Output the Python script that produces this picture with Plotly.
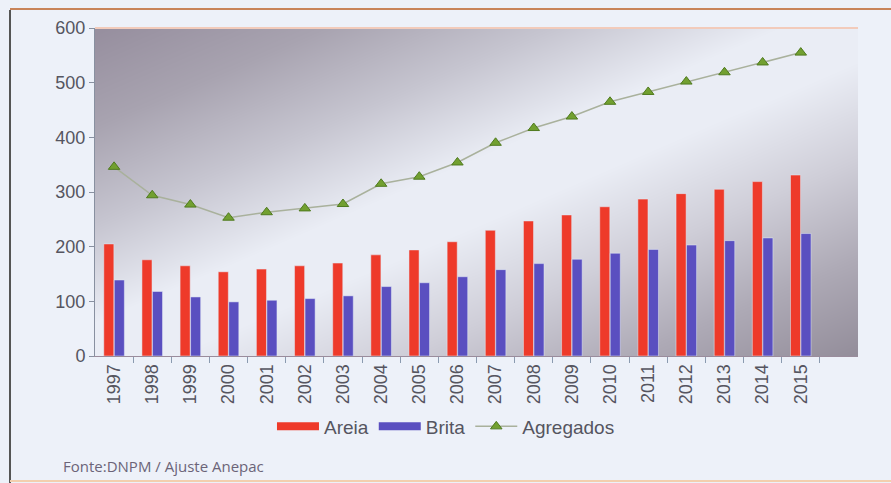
import numpy as np
import plotly.graph_objects as go

years = [1997, 1998, 1999, 2000, 2001, 2002, 2003, 2004, 2005, 2006,
         2007, 2008, 2009, 2010, 2011, 2012, 2013, 2014, 2015]
areia = [205, 176, 165, 154, 159, 165, 170, 185, 194, 209,
         230, 247, 258, 273, 287, 297, 305, 319, 331]
brita = [139, 118, 108, 99, 102, 105, 110, 127, 134, 145,
         158, 169, 177, 188, 195, 203, 211, 216, 224]
agregados = [346, 294, 277, 253, 263, 270, 278, 315, 328, 354,
             390, 417, 438, 465, 483, 502, 519, 537, 555]
year_labels = [str(y) for y in years]
y_ticks = [0, 100, 200, 300, 400, 500, 600]

RED = "#ee3a2a"
BLUE = "#5a4fc0"
GREEN = "#72a030"
TXT = "#555560"

x0, x1 = years[0] - 0.5, years[-1] + 1.5

# decorative diagonal gradient for the plot background
gx = np.linspace(x0, x1, 41)
gy = np.linspace(0, 600, 31)
U, V = np.meshgrid((gx - x0) / (x1 - x0), 1 - gy / 600)
T = (U + V) / 2

fig = go.Figure()
fig.add_trace(go.Heatmap(
    x=gx, y=gy, z=T, zmin=0, zmax=1, zsmooth="best", showscale=False,
    hoverinfo="skip", showlegend=False,
    colorscale=[[0, "#968e9e"], [0.15, "#a8a3b0"], [0.3, "#c6c5d0"],
                [0.45, "#eaedf5"], [0.55, "#eaedf5"], [0.7, "#cfced8"],
                [0.85, "#aeaab6"], [1, "#938d9a"]]))

fig.add_trace(go.Bar(x=years, y=areia, name="Areia", marker_color=RED,
                     showlegend=False))
fig.add_trace(go.Bar(x=years, y=brita, name="Brita", marker_color=BLUE,
                     showlegend=False))
# legend swatches
fig.add_trace(go.Scatter(x=[None], y=[None], mode="lines", name="Areia",
                         line=dict(color=RED, width=8)))
fig.add_trace(go.Scatter(x=[None], y=[None], mode="lines", name="Brita",
                         line=dict(color=BLUE, width=8)))
fig.add_trace(go.Scatter(x=years, y=agregados, mode="lines+markers",
                         name="Agregados",
                         line=dict(color="#a9b19c", width=1.5),
                         marker=dict(symbol="triangle-up", size=10,
                                     color=GREEN,
                                     line=dict(color="#4f7a1e", width=1))))

fig.update_layout(
    width=891, height=483, autosize=False,
    margin=dict(l=95, r=33, t=28, b=127),
    paper_bgcolor="#edf1f9", plot_bgcolor="#edf1f9",
    barmode="group", bargap=0.45, bargroupgap=0.04,
    font=dict(family="Liberation Sans, Arial, sans-serif", size=18, color=TXT),
    legend=dict(orientation="h", x=0.46, xanchor="center", y=-0.215,
                yanchor="middle", bgcolor="rgba(0,0,0,0)",
                font=dict(size=19, color=TXT), itemwidth=42,
                traceorder="normal"),
    showlegend=True,
)
fig.update_xaxes(
    range=[x0, x1], tickmode="array", tickvals=years, ticktext=year_labels,
    tickangle=-90, ticks="", showgrid=False, zeroline=False,
    showline=True, linecolor="#9a8c9c", linewidth=1,
    tickfont=dict(size=18, color=TXT),
    minor=dict(tickmode="array", tickvals=[y + 0.5 for y in years],
               ticks="outside", ticklen=6, tickcolor="#8b9bb0", tickwidth=1,
               showgrid=False),
)
fig.update_yaxes(
    range=[0, 600], tickmode="array", tickvals=y_ticks,
    ticks="outside", ticklen=5, tickcolor="#8890a0", showgrid=False,
    zeroline=False, showline=True, linecolor="#8890a0", linewidth=1,
    tickfont=dict(size=18, color=TXT),
)

# figure frame and top edge of plot
fig.add_shape(type="line", xref="paper", yref="paper", x0=0, x1=1, y0=1, y1=1,
              line=dict(color="#f2cbbb", width=2))
fig.add_shape(type="line", xref="paper", yref="paper",
              x0=-85 / 763, x1=-85 / 763, y0=-127 / 328, y1=(328 + 18) / 328,
              line=dict(color="#555", width=2))
fig.add_shape(type="line", xref="paper", yref="paper",
              x0=-85 / 763, x1=(763 + 33) / 763, y0=(328 + 19) / 328,
              y1=(328 + 19) / 328, line=dict(color="#c8845a", width=2))
fig.add_shape(type="line", xref="paper", yref="paper",
              x0=-85 / 763, x1=(763 + 33) / 763, y0=-125 / 328,
              y1=-125 / 328, line=dict(color="#f3cfae", width=2))

fig.add_annotation(text="Fonte:DNPM / Ajuste Anepac", xref="paper",
                   yref="paper", x=-34 / 763, y=-110 / 328, xanchor="left",
                   yanchor="middle", showarrow=False,
                   font=dict(family="Open Sans, sans-serif", size=15,
                             color="#6b6478"))

fig.write_html(
    "out.html",
    config={"responsive": False, "displayModeBar": False},
    post_script=("document.body.style.margin='0';"
                 "document.body.style.overflow='hidden';"
                 "Plotly.relayout(document.getElementById('{plot_id}'),"
                 "{width:891,height:483});"),
)
